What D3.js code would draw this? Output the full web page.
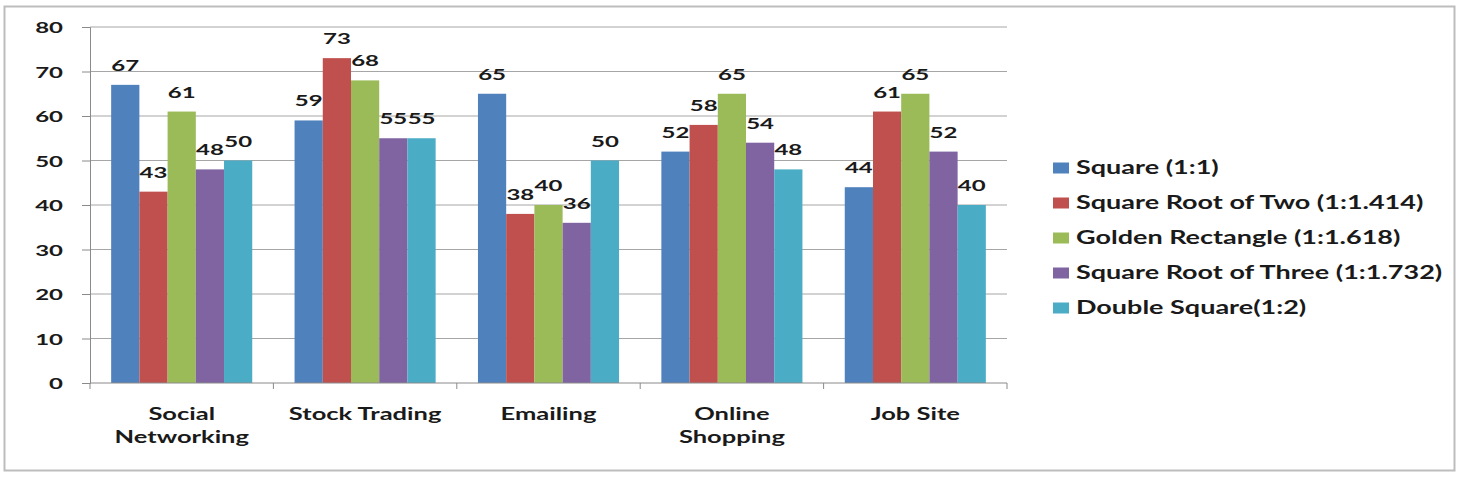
<!DOCTYPE html>
<html lang="en">
<head>
    <meta charset="UTF-8">
    <title>Rectangle proportions by site type</title>
    <style>
      body { margin: 0; background: #fff; }
      text { font-family: Lato, "Open Sans", sans-serif; font-weight: bold; fill: #1a1a1a; }
    </style>
</head>
<body>

<div id="my_dataviz"></div>

<script src="https://d3js.org/d3.v7.min.js"></script>
<script>
    // chart values
    const categories = ["Social\nNetworking", "Stock Trading", "Emailing", "Online\nShopping", "Job Site"];
    const seriesNames = ["Square (1:1)", "Square Root of Two (1:1.414)", "Golden Rectangle (1:1.618)",
                         "Square Root of Three (1:1.732)", "Double Square(1:2)"];
    const squareVals = [67, 59, 65, 52, 44];
    const rootTwoVals = [43, 73, 38, 58, 61];
    const goldenVals = [61, 68, 40, 65, 65];
    const rootThreeVals = [48, 55, 36, 54, 52];
    const doubleVals = [50, 55, 50, 48, 40];
    const yTicks = [0, 10, 20, 30, 40, 50, 60, 70, 80];

    const colors = ["#4F81BD", "#C0504D", "#9BBB59", "#8064A2", "#4BACC6"];
    const allSeries = [squareVals, rootTwoVals, goldenVals, rootThreeVals, doubleVals];

    // table built from the arrays above
    const data = categories.map((c, i) => ({
        cat: c,
        values: seriesNames.map((s, j) => ({series: s, value: allSeries[j][i]}))
    }));

    // the picture is stretched sideways, so text is too
    const SX = 1.5;

    const W = 1463, H = 485;
    const margin = {top: 27, left: 90, right: 456, bottom: 102};
    const width = W - margin.left - margin.right,
          height = H - margin.top - margin.bottom;

    const root = d3.select("#my_dataviz")
      .append("svg")
        .attr("width", W)
        .attr("height", H);

    // outer frame
    root.append("rect")
        .attr("x", 4.5).attr("y", 6.5)
        .attr("width", 1450).attr("height", 464)
        .attr("fill", "#fff")
        .attr("stroke", "#bdbdbd")
        .attr("stroke-width", 2);

    const svg = root.append("g")
        .attr("transform", `translate(${margin.left},${margin.top})`);

    // scales
    const x0 = d3.scaleBand()
      .domain(categories)
      .range([0, width])
      .padding(0);

    const x1 = d3.scaleBand()
      .domain(seriesNames)
      .range([0, x0.bandwidth()])
      .paddingInner(0)
      .paddingOuter(0.75);

    const y = d3.scaleLinear()
      .domain([0, 80])
      .range([height, 0]);

    // grid lines
    svg.append("g")
      .selectAll("line")
      .data(yTicks.filter(t => t > 0))
      .join("line")
        .attr("x1", 0).attr("x2", width)
        .attr("y1", d => y(d)).attr("y2", d => y(d))
        .attr("stroke", "#a6a6a6")
        .attr("stroke-width", 1);

    // y axis
    const yAxis = svg.append("g")
      .call(d3.axisLeft(y).tickValues(yTicks).tickSize(8).tickPadding(0));
    yAxis.selectAll("path, line").attr("stroke", "#8a8a8a");
    yAxis.selectAll("text")
      .attr("x", -27 / SX)
      .attr("dy", "0.36em")
      .attr("transform", `scale(${SX},1)`)
      .style("font-size", "16px")
      .style("font-family", "Lato, sans-serif")
      .attr("fill", "#1a1a1a");

    // bars
    const groups = svg.append("g")
      .selectAll("g")
      .data(data)
      .join("g")
        .attr("transform", d => `translate(${x0(d.cat)},0)`);

    groups.selectAll("rect")
      .data(d => d.values)
      .join("rect")
        .attr("x", d => x1(d.series))
        .attr("y", d => y(d.value))
        .attr("width", x1.bandwidth())
        .attr("height", d => height - y(d.value))
        .attr("fill", (d, i) => colors[i]);

    // value labels
    groups.selectAll("text")
      .data(d => d.values)
      .join("text")
        .attr("transform", d => `translate(${x1(d.series) + x1.bandwidth() / 2},${y(d.value) - 14}) scale(${SX},1)`)
        .attr("text-anchor", "middle")
        .style("font-size", "16px")
        .text(d => d.value);

    // x axis: baseline with ticks between categories
    const xAxis = svg.append("g").attr("transform", `translate(0,${height})`);
    xAxis.append("line")
        .attr("x1", 0).attr("x2", width)
        .attr("stroke", "#8a8a8a");
    xAxis.selectAll(".tick")
      .data(categories.map(c => x0(c)).concat([width]))
      .join("line")
        .attr("x1", d => d).attr("x2", d => d)
        .attr("y1", 0).attr("y2", 6)
        .attr("stroke", "#8a8a8a");

    const catLabels = xAxis.selectAll(".cat")
      .data(categories)
      .join("text")
        .attr("class", "cat")
        .attr("text-anchor", "middle")
        .attr("transform", d => `translate(${x0(d) + x0.bandwidth() / 2},37) scale(${SX},1)`)
        .style("font-size", "17px");
    catLabels.selectAll("tspan")
      .data(d => d.split("\n"))
      .join("tspan")
        .attr("x", 0)
        .attr("y", (d, i) => i * 23)
        .text(d => d);

    // legend
    const legend = root.append("g")
      .attr("transform", "translate(1053,168)");
    const item = legend.selectAll("g")
      .data(seriesNames)
      .join("g")
        .attr("transform", (d, i) => `translate(0,${i * 35})`);
    item.append("rect")
        .attr("x", 0).attr("y", -5.5)
        .attr("width", 16).attr("height", 11)
        .attr("fill", (d, i) => colors[i]);
    item.append("text")
        .attr("transform", `translate(23,0) scale(${SX},1)`)
        .attr("dy", "0.36em")
        .style("font-size", "18px")
        .text(d => d);
</script>

</body>
</html>
